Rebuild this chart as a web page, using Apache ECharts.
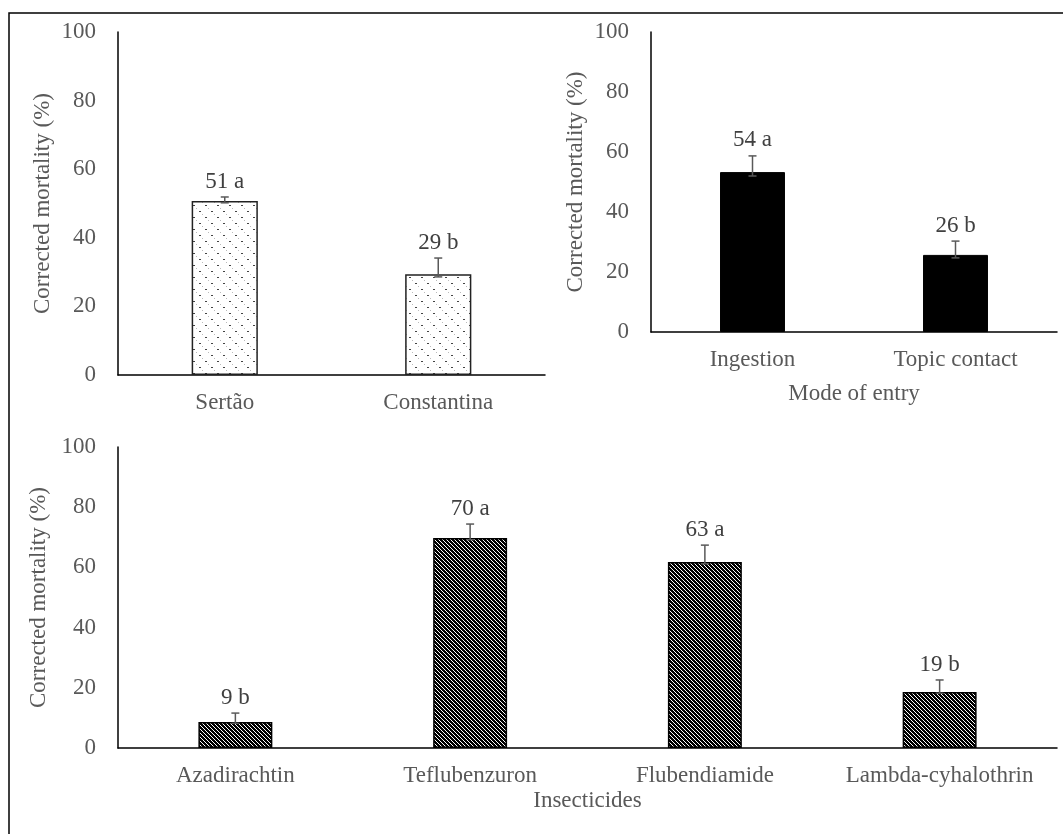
<!DOCTYPE html>
<html>
<head>
<meta charset="utf-8">
<script src="https://cdn.jsdelivr.net/npm/echarts@6/dist/echarts.min.js"></script>
<style>html,body{margin:0;padding:0;background:#fff}#c{width:1063px;height:834px}</style>
</head>
<body>
<div id="c"></div>
<script>
// ---- data ----
const siteCats = ['Sertão', 'Constantina'];
const siteVals = [50.7, 29.4];
const siteErrHi = [51.9, 34.1];
const siteErrLo = [50.2, 28.6];
const siteLabels = ['51 a', '29 b'];

const modeCats = ['Ingestion', 'Topic contact'];
const modeVals = [53.3, 25.7];
const modeErrHi = [58.7, 30.3];
const modeErrLo = [52.0, 24.7];
const modeLabels = ['54 a', '26 b'];

const insCats = ['Azadirachtin', 'Teflubenzuron', 'Flubendiamide', 'Lambda-cyhalothrin'];
const insVals = [8.6, 69.8, 61.8, 18.6];
const insErrHi = [11.6, 74.4, 67.4, 22.6];
const insErrLo = [8.2, 69.2, 61.2, 18.2];
const insLabels = ['9 b', '70 a', '63 a', '19 b'];

const yTicks = { min: 0, max: 100, interval: 20 };
const yName = 'Corrected mortality (%)';
const modeAxisName = 'Mode of entry';
const insAxisName = 'Insecticides';

// ---- patterns ----
function dotPattern() {
  const c = document.createElement('canvas'); c.width = 12; c.height = 12;
  const g = c.getContext('2d');
  g.fillStyle = '#fff'; g.fillRect(0, 0, 12, 12);
  g.fillStyle = '#444'; g.fillRect(1, 1, 2, 1); g.fillRect(7, 7, 2, 1);
  g.fillStyle = '#bbb'; g.fillRect(4, 4, 1, 1); g.fillRect(10, 10, 1, 1);
  return c;
}
function checkPattern() {
  const c = document.createElement('canvas'); c.width = 8; c.height = 8;
  const g = c.getContext('2d');
  g.fillStyle = '#fff'; g.fillRect(0, 0, 8, 8);
  g.fillStyle = '#000';
  for (let y = 0; y < 8; y++) for (let x = 0; x < 8; x++) {
    const d = ((x - y) % 4 + 4) % 4;
    const chk = (x + y) % 2 === 0;
    if (d < 2 || (d === 2 && chk)) g.fillRect(x, y, 1, 1);
  }
  return c;
}

const FONT = 'Liberation Serif';
const FS = 23;
const AX = '#595959';

function catAxis(idx, cats, name, nameGap) {
  return {
    type: 'category', gridIndex: idx, data: cats,
    axisTick: { show: false },
    axisLine: { lineStyle: { color: '#000', width: 1.5 } },
    axisLabel: { color: AX, fontFamily: FONT, fontSize: FS, margin: 16, interval: 0, hideOverlap: false },
    name: name || '', nameLocation: 'middle', nameGap: nameGap || 40,
    nameTextStyle: { color: AX, fontFamily: FONT, fontSize: FS }
  };
}
function valAxis(idx) {
  return {
    type: 'value', gridIndex: idx, min: yTicks.min, max: yTicks.max, interval: yTicks.interval,
    splitLine: { show: false }, axisTick: { show: false },
    axisLine: { show: true, lineStyle: { color: '#000', width: 1.5 } },
    axisLabel: { color: AX, fontFamily: FONT, fontSize: FS, margin: 22 },
    name: yName, nameLocation: 'middle', nameGap: 64, nameRotate: 90,
    nameTextStyle: { color: AX, fontFamily: FONT, fontSize: FS }
  };
}
function errSeries(idx, lo, hi, labels) {
  return {
    type: 'custom', xAxisIndex: idx, yAxisIndex: idx, z: 10,
    data: lo.map((v, i) => [i, v, hi[i]]),
    renderItem: function (params, api) {
      const x = api.value(0);
      const pHi = api.coord([x, api.value(2)]);
      const pLo = api.coord([x, api.value(1)]);
      const st = { stroke: '#595959', lineWidth: 1.5 };
      return {
        type: 'group', children: [
          { type: 'line', shape: { x1: pHi[0], y1: pHi[1], x2: pLo[0], y2: pLo[1] }, style: st },
          { type: 'line', shape: { x1: pHi[0] - 4, y1: pHi[1], x2: pHi[0] + 4, y2: pHi[1] }, style: st },
          { type: 'line', shape: { x1: pLo[0] - 4, y1: pLo[1], x2: pLo[0] + 4, y2: pLo[1] }, style: st },
          { type: 'text', x: pHi[0], y: pHi[1] - 4,
            style: { text: labels[params.dataIndex], align: 'center', verticalAlign: 'bottom',
                     textAlign: 'center', textVerticalAlign: 'bottom',
                     font: FS + 'px "' + FONT + '"', fill: '#404040' } }
        ]
      };
    }
  };
}

const chart = echarts.init(document.getElementById('c'), null, { renderer: 'canvas' });
chart.setOption({
  animation: false,
  backgroundColor: '#fff',
  graphic: [{ type: 'rect', shape: { x: 9, y: 13, width: 1100, height: 900 },
              style: { fill: 'none', stroke: '#000', lineWidth: 1.5 }, z: 100 }],
  grid: [
    { left: 118, top: 32, width: 427, height: 343 },
    { left: 651, top: 32, width: 406, height: 300 },
    { left: 118, top: 447, width: 939, height: 301 }
  ],
  xAxis: [
    catAxis(0, siteCats, '', 40),
    catAxis(1, modeCats, modeAxisName, 50),
    catAxis(2, insCats, insAxisName, 41)
  ],
  yAxis: [valAxis(0), valAxis(1), valAxis(2)],
  series: [
    { type: 'bar', xAxisIndex: 0, yAxisIndex: 0, data: siteVals, barWidth: '31%',
      itemStyle: { color: { image: dotPattern(), repeat: 'repeat' }, borderColor: '#222', borderWidth: 1.5 } },
    errSeries(0, siteErrLo, siteErrHi, siteLabels),
    { type: 'bar', xAxisIndex: 1, yAxisIndex: 1, data: modeVals, barWidth: '32%',
      itemStyle: { color: '#000', borderColor: '#000', borderWidth: 1 } },
    errSeries(1, modeErrLo, modeErrHi, modeLabels),
    { type: 'bar', xAxisIndex: 2, yAxisIndex: 2, data: insVals, barWidth: '31.5%',
      itemStyle: { color: { image: checkPattern(), repeat: 'repeat' }, borderColor: '#000', borderWidth: 1.5 } },
    errSeries(2, insErrLo, insErrHi, insLabels)
  ]
});
</script>
</body>
</html>
